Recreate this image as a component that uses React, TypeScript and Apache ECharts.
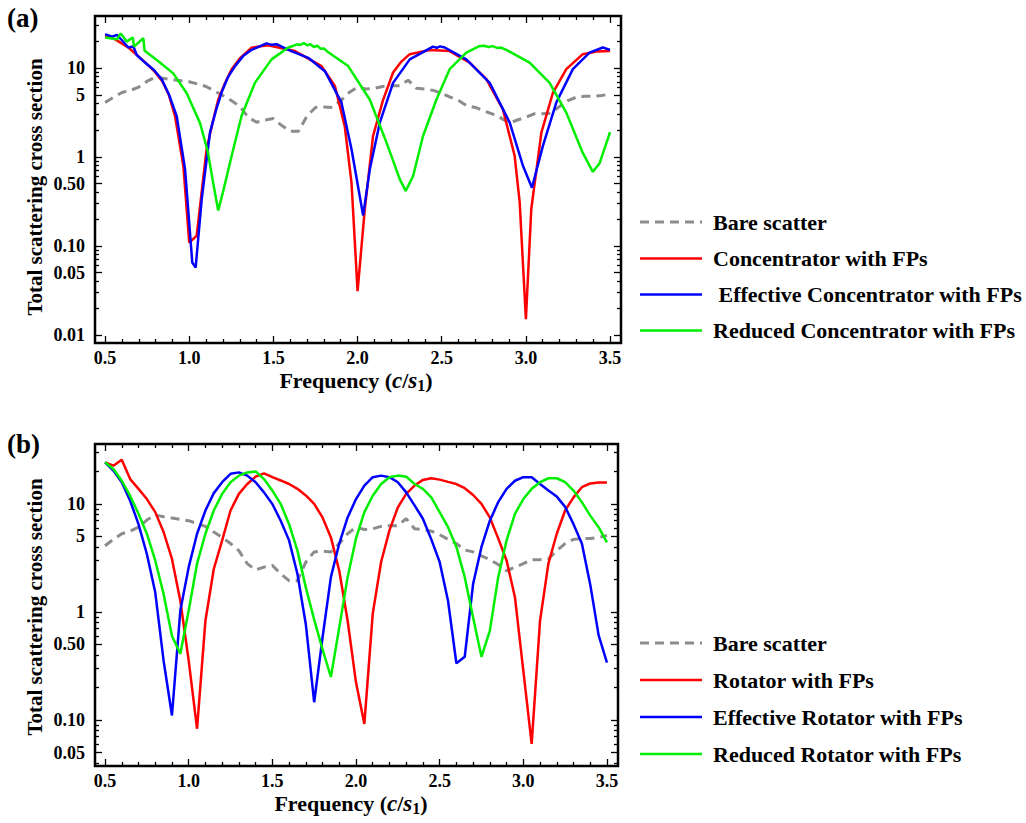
import React, { useEffect, useRef } from "react";
import * as echarts from "echarts";

const SERIF = "'Liberation Serif', 'Times New Roman', Times, serif";

// ---------- tick values / labels ----------
const xMajorTicks = [0.5, 1.0, 1.5, 2.0, 2.5, 3.0, 3.5];
const xMajorLabels = ["0.5", "1.0", "1.5", "2.0", "2.5", "3.0", "3.5"];
const xMinorTicks = [
  0.6, 0.7, 0.8, 0.9, 1.1, 1.2, 1.3, 1.4, 1.6, 1.7, 1.8, 1.9, 2.1, 2.2, 2.3, 2.4,
  2.6, 2.7, 2.8, 2.9, 3.1, 3.2, 3.3, 3.4,
];
const yMajorTicks = [0.01, 0.05, 0.1, 0.5, 1, 5, 10];
const yMajorLabels = ["0.01", "0.05", "0.10", "0.50", "1", "5", "10"];
const yMinorTicks = [
  0.02, 0.03, 0.04, 0.06, 0.07, 0.08, 0.09, 0.2, 0.3, 0.4, 0.6, 0.7, 0.8, 0.9,
  2, 3, 4, 6, 7, 8, 9, 20, 30,
];

// ---------- panel (a) data: [frequency, cross section] ----------
const concentrator = [
  [0.5, 23.3], [0.56, 21], [0.64, 16.9], [0.74, 11.5], [0.79, 9.3], [0.84, 7.1],
  [0.88, 4.9], [0.915, 2.9], [0.965, 0.79], [1.0, 0.109], [1.044, 0.13],
  [1.103, 1.22], [1.14, 2.5], [1.172, 4.4], [1.21, 6.6], [1.252, 9.7], [1.3, 12.8],
  [1.37, 16.9], [1.467, 18], [1.628, 15.5], [1.786, 10.5],
  [1.865, 6.3], [1.924, 2.2], [1.964, 0.51], [2.0, 0.031], [2.043, 0.26],
  [2.092, 1.72], [2.152, 4.4], [2.211, 8.9], [2.26, 11.8], [2.31, 14.3], [2.429, 15.9],
  [2.547, 15.5], [2.666, 11.5], [2.765, 7.5], [2.864, 3.4], [2.933, 1.03],
  [2.963, 0.31], [3.0, 0.015], [3.032, 0.26], [3.092, 1.88], [3.161, 5.3],
  [3.24, 9.7], [3.338, 14.3], [3.42, 15.3], [3.5, 15.5],
];
const effConcentrator = [
  [0.5, 24], [0.54, 22.5], [0.57, 23.5], [0.6, 20.5], [0.638, 17], [0.668, 17.4],
  [0.688, 14], [0.737, 11.5], [0.79, 9.5], [0.836, 7.5], [0.88, 5], [0.925, 2.9],
  [0.975, 0.73], [1.018, 0.065], [1.038, 0.057], [1.074, 0.335], [1.123, 1.88],
  [1.16, 3.4], [1.192, 5.3], [1.23, 7.9], [1.272, 10.5], [1.32, 13.6], [1.37, 16],
  [1.459, 18.9], [1.49, 18.2], [1.519, 18.5],
  [1.588, 16], [1.707, 13], [1.806, 9.2], [1.904, 4.1], [1.964, 1.22],
  [2.033, 0.22], [2.073, 0.73], [2.132, 2.43], [2.211, 6.8], [2.31, 12.5],
  [2.448, 17.4], [2.47, 16.8], [2.49, 17.5], [2.518, 17], [2.646, 12.5],
  [2.785, 6.8], [2.904, 2.43], [2.983, 0.79], [3.036, 0.45], [3.101, 1.33],
  [3.181, 4.1], [3.279, 9.7], [3.378, 14.9], [3.457, 17], [3.5, 16],
];
const redConcentrator = [
  [0.5, 22], [0.57, 21], [0.593, 24.5], [0.628, 19.8], [0.664, 22], [0.672, 17.4],
  [0.727, 21.6], [0.735, 15.6], [0.807, 12.3], [0.905, 8.7], [0.985, 5.2],
  [1.064, 2.4], [1.11, 1.15], [1.143, 0.5], [1.172, 0.25], [1.2, 0.4],
  [1.252, 1.03], [1.311, 2.9], [1.39, 6.8], [1.489, 12.5], [1.588, 17],
  [1.62, 17.8], [1.64, 18.4], [1.66, 18.2], [1.68, 19], [1.7, 18], [1.72, 18.5],
  [1.74, 17.2], [1.76, 17.8], [1.78, 16.5], [1.8, 16.6], [1.826, 15],
  [1.944, 10.5], [2.073, 4.4], [2.172, 1.45], [2.251, 0.56], [2.286, 0.415],
  [2.33, 0.61], [2.389, 1.72], [2.468, 4.4], [2.547, 9.7], [2.646, 14.9],
  [2.72, 17.5], [2.75, 17.8], [2.78, 17.2], [2.8, 17.6], [2.83, 16.8], [2.85, 17],
  [2.884, 16], [3.022, 11.5], [3.141, 6.8], [3.24, 3.15], [3.338, 1.11],
  [3.398, 0.68], [3.438, 0.85], [3.5, 1.9],
];

// ---------- shared frequency grid and bare scatter ----------
const freq = [
  0.5, 0.55, 0.6, 0.65, 0.7, 0.75, 0.8, 0.85, 0.9, 0.95,
  1.0, 1.05, 1.1, 1.15, 1.2, 1.25, 1.3, 1.35, 1.4, 1.45,
  1.5, 1.55, 1.6, 1.65, 1.7, 1.75, 1.8, 1.85, 1.9, 1.95,
  2.0, 2.05, 2.1, 2.15, 2.2, 2.25, 2.3, 2.35, 2.4, 2.45,
  2.5, 2.55, 2.6, 2.65, 2.7, 2.75, 2.8, 2.85, 2.9, 2.95,
  3.0, 3.05, 3.1, 3.15, 3.2, 3.25, 3.3, 3.35, 3.4, 3.45, 3.5,
];
const bareScatter = [
  4.1, 4.7, 5.3, 5.6, 6.1, 7.1, 7.9, 7.6, 7.4, 7.2,
  7.0, 6.6, 6.2, 5.5, 4.9, 4.3, 3.7, 2.8, 2.45, 2.6,
  2.7, 2.25, 1.95, 1.95, 2.9, 3.6, 3.65, 3.6, 4.3, 5.3,
  6.1, 5.8, 5.9, 6.2, 6.3, 6.3, 7.3, 5.9, 5.8, 5.6,
  5.2, 4.7, 4.3, 3.75, 3.6, 3.3, 3.05, 2.75, 2.4, 2.6,
  2.8, 3.05, 3.05, 3.1, 3.7, 4.3, 4.7, 4.8, 4.8, 4.9, 5.1,
];

// ---------- panel (b) data ----------
const rotator = [
  24.3, 22.6, 25.7, 17, 13.8, 11.1, 8.4, 5.5, 3.1, 1.27,
  0.354, 0.083, 0.83, 2.5, 4.6, 8.7, 12.4, 15.3, 17.9, 19.2,
  17.7, 16.5, 15.3, 13.8, 12, 10, 7.5, 4.9, 2.4, 0.83,
  0.223, 0.092, 0.96, 2.9, 5.7, 9.3, 12.4, 14.8, 16.7, 17.3,
  16.8, 16, 15.3, 14, 12.1, 10, 7.5, 4.8, 3.0, 1.37,
  0.286, 0.06, 0.83, 2.8, 5.3, 8.7, 11.5, 14.3, 15.5, 15.8, 15.8,
];
const effRotator = [
  24.3, 20.4, 15.9, 10.7, 6.5, 3.44, 1.52, 0.354, 0.11, 1.03,
  2.6, 5.3, 8.7, 12.6, 15.9, 19, 19.6, 18.3, 15.9, 12.8,
  10, 7.0, 4.6, 2.25, 0.77, 0.146, 0.58, 2.1, 4.3, 7.5,
  11.1, 14.8, 17.7, 18.3, 17.7, 15.9, 12.8, 9.7, 7.3, 4.7,
  2.9, 1.27, 0.335, 0.385, 1.82, 4.0, 7.0, 10.4, 13.8, 16.4,
  17.7, 17.7, 15.3, 13.3, 11.7, 9.4, 6.5, 4.3, 1.8, 0.61, 0.34,
];
const redRotator = [
  24.3, 21.1, 16.4, 11.9, 8.1, 5.3, 3.0, 1.47, 0.6, 0.41,
  1.03, 2.8, 5.3, 8.7, 12.4, 15.9, 18.3, 19.6, 20, 17,
  13.3, 10, 6.5, 3.7, 1.69, 0.85, 0.45, 0.25, 0.72, 2.1,
  4.8, 8.4, 11.9, 15.3, 17.7, 18.3, 17.9, 15.3, 13.8, 11.5,
  8.4, 6.1, 4.0, 2.1, 0.89, 0.385, 0.67, 2.1, 4.6, 8.1,
  11.1, 13.8, 15.9, 17.3, 17.3, 15.9, 13.3, 10.4, 7.8, 6.1, 4.4,
];

const legendA = ["Bare scatter", "Concentrator with FPs", " Effective Concentrator with FPs", "Reduced Concentrator with FPs"];
const legendB = ["Bare scatter", "Rotator with FPs", "Effective Rotator with FPs", "Reduced Rotator with FPs"];

const COLORS = ["#8c8c8c", "#ff0000", "#0000ff", "#00ee00"];

const fmtY = (v: number) => {
  for (let i = 0; i < yMajorTicks.length; i++) {
    if (Math.abs(Math.log10(v) - Math.log10(yMajorTicks[i])) < 1e-4) return yMajorLabels[i];
  }
  return "";
};
const fmtX = (v: number) => {
  for (let i = 0; i < xMajorTicks.length; i++) {
    if (Math.abs(v - xMajorTicks[i]) < 1e-6) return xMajorLabels[i];
  }
  return "";
};

const labelFont = { fontFamily: SERIF, fontWeight: "bold" as const, fontSize: 18, color: "#000" };

function xAxesFor(grid: number, min: number, max: number) {
  const base = {
    type: "value", gridIndex: grid, min, max,
    axisLine: { show: false }, splitLine: { show: false },
  };
  const mk = (position: string, ticks: number[], len: number, labels: boolean) => ({
    ...base,
    position,
    axisTick: { show: true, inside: true, length: len, customValues: ticks, lineStyle: { color: "#000", width: 1.3 } },
    axisLabel: labels
      ? { show: true, customValues: xMajorTicks, formatter: fmtX, margin: 6, ...labelFont }
      : { show: false },
  });
  return [
    mk("bottom", xMajorTicks, 7, true),
    mk("bottom", xMinorTicks, 4, false),
    mk("top", xMajorTicks, 7, false),
    mk("top", xMinorTicks, 4, false),
  ];
}

function yAxesFor(grid: number, min: number, max: number) {
  const base = {
    type: "log", logBase: 10, gridIndex: grid, min, max,
    axisLine: { show: false }, splitLine: { show: false }, minorTick: { show: false },
  };
  const mk = (position: string, ticks: number[], len: number, labels: boolean) => ({
    ...base,
    position,
    axisTick: { show: true, inside: true, length: len, customValues: ticks, lineStyle: { color: "#000", width: 1.3 } },
    axisLabel: labels
      ? { show: true, customValues: yMajorTicks, formatter: fmtY, margin: 10, ...labelFont }
      : { show: false },
  });
  return [
    mk("left", yMajorTicks, 7, true),
    mk("left", yMinorTicks, 4, false),
    mk("right", yMajorTicks, 7, false),
    mk("right", yMinorTicks, 4, false),
  ];
}

function lineSeries(name: string, data: number[][], color: string, grid: number, dashed = false) {
  return {
    type: "line", name, data,
    xAxisIndex: grid * 4, yAxisIndex: grid * 4,
    showSymbol: false, symbol: "none",
    lineStyle: dashed
      ? { color, width: 3, type: [9, 6] }
      : { color, width: 2.5 },
    silent: true,
  };
}

const titleFont = `bold 21px ${SERIF}`;
const legendFont = `bold 22px ${SERIF}`;

function legendGraphics(names: string[], ys: number[]) {
  const els: any[] = [];
  names.forEach((n, i) => {
    els.push({
      type: "line",
      shape: { x1: 640, y1: ys[i], x2: 702, y2: ys[i] },
      style: { stroke: COLORS[i], lineWidth: i === 0 ? 3 : 2.5, lineDash: i === 0 ? [9, 6] : null },
    });
    els.push({
      type: "text", x: 713, y: ys[i],
      style: { text: n, font: legendFont, fill: "#000", align: "left", verticalAlign: "middle" },
    });
  });
  return els;
}

const richFreq = {
  b: { fontFamily: SERIF, fontWeight: "bold", fontSize: 22, lineHeight: 26, fill: "#000" },
  i: { fontFamily: SERIF, fontWeight: "bold", fontStyle: "italic", fontSize: 23, lineHeight: 26, fill: "#000" },
  s: { fontFamily: SERIF, fontWeight: "bold", fontSize: 16, lineHeight: 14, verticalAlign: "bottom", fill: "#000" },
};

export default function App() {
  const ref = useRef<HTMLDivElement>(null);
  useEffect(() => {
    if (!ref.current) return;
    const chart = echarts.init(ref.current, null, { renderer: "svg" });
    const gridBorder = { show: true, borderColor: "#000", borderWidth: 2.5, backgroundColor: "transparent" };
    const bottomPairs = (arr: number[]) => freq.map((f, i) => [f, arr[i]]);
    const option: any = {
      animation: false,
      backgroundColor: "#fff",
      grid: [
        { left: 95, top: 16, width: 526, height: 327, ...gridBorder },
        { left: 95, top: 444, width: 523, height: 322, ...gridBorder },
      ],
      xAxis: [...xAxesFor(0, 0.44, 3.565), ...xAxesFor(1, 0.44, 3.566)],
      yAxis: [...yAxesFor(0, 0.0081, 38.4), ...yAxesFor(1, 0.0375, 35.9)],
      series: [
        lineSeries("Bare scatter", bottomPairs(bareScatter), COLORS[0], 0, true),
        lineSeries(legendA[1], concentrator, COLORS[1], 0),
        lineSeries(legendA[2], effConcentrator, COLORS[2], 0),
        lineSeries(legendA[3], redConcentrator, COLORS[3], 0),
        lineSeries("Bare scatter (b)", bottomPairs(bareScatter), COLORS[0], 1, true),
        lineSeries(legendB[1], bottomPairs(rotator), COLORS[1], 1),
        lineSeries(legendB[2], bottomPairs(effRotator), COLORS[2], 1),
        lineSeries(legendB[3], bottomPairs(redRotator), COLORS[3], 1),
      ],
      graphic: [
        { type: "text", x: 7, y: 18, style: { text: "(a)", font: `bold 27px ${SERIF}`, fill: "#000", align: "left", verticalAlign: "middle" } },
        { type: "text", x: 7, y: 444, style: { text: "(b)", font: `bold 27px ${SERIF}`, fill: "#000", align: "left", verticalAlign: "middle" } },
        { type: "text", x: 35, y: 187, rotation: Math.PI / 2, style: { text: "Total scattering cross section", font: titleFont, fill: "#000", align: "center", verticalAlign: "middle" } },
        { type: "text", x: 35, y: 607, rotation: Math.PI / 2, style: { text: "Total scattering cross section", font: titleFont, fill: "#000", align: "center", verticalAlign: "middle" } },
        { type: "text", x: 356, y: 380, style: { text: "{b|Frequency (}{i|c}{b|/}{i|s}{s|1}{b|)}", rich: richFreq, align: "center", verticalAlign: "middle" } },
        { type: "text", x: 351, y: 803, style: { text: "{b|Frequency (}{i|c}{b|/}{i|s}{s|1}{b|)}", rich: richFreq, align: "center", verticalAlign: "middle" } },
        ...legendGraphics(legendA, [222, 258.5, 294.5, 330.5]),
        ...legendGraphics(legendB, [643, 680, 717, 754]),
      ],
    };
    chart.setOption(option);
    return () => chart.dispose();
  }, []);
  return (
    <div
      ref={ref}
      style={{ position: "absolute", left: 0, top: 0, width: 1026, height: 823, background: "#fff" }}
    />
  );
}
